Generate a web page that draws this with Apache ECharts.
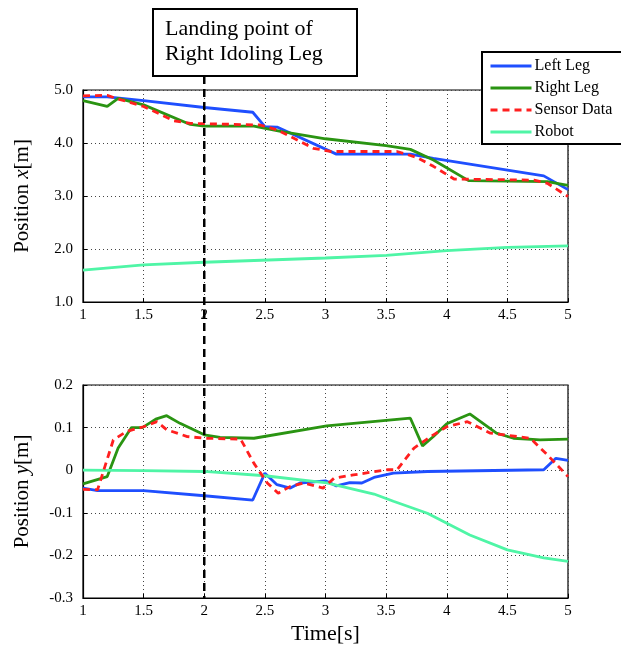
<!DOCTYPE html>
<html><head><meta charset="utf-8">
<script src="https://cdn.jsdelivr.net/npm/echarts@6/dist/echarts.min.js"></script>
<style>html,body{margin:0;padding:0;background:#fff}#c{width:621px;height:648px}</style>
</head><body><div id="c"></div>
<script>
// ---- Data ----
const xTicks = [1, 1.5, 2, 2.5, 3, 3.5, 4, 4.5, 5];
const landingTime = 2;

// Top: position x [m]
const leftXT  = [1, 1.2, 1.5, 2, 2.4, 2.5, 2.6, 3.09, 3.7, 3.89, 4.8, 5];
const leftXV  = [4.87, 4.87, 4.80, 4.67, 4.58, 4.31, 4.30, 3.79, 3.79, 3.71, 3.38, 3.12];
const rightXT = [1, 1.2, 1.29, 1.5, 1.885, 2, 2.41, 2.63, 3, 3.5, 3.7, 3.89, 4.18, 4.83, 5];
const rightXV = [4.80, 4.69, 4.84, 4.72, 4.35, 4.32, 4.32, 4.22, 4.08, 3.95, 3.88, 3.68, 3.29, 3.27, 3.20];
const sensXT  = [1, 1.2, 1.29, 1.5, 1.75, 1.885, 2.46, 2.6, 2.9, 3.04, 3.59, 3.75, 3.89, 4.06, 4.72, 4.83, 5];
const sensXV  = [4.89, 4.90, 4.83, 4.69, 4.42, 4.37, 4.34, 4.25, 3.90, 3.84, 3.84, 3.73, 3.56, 3.32, 3.30, 3.24, 2.99];
const robotXT = [1, 1.5, 2, 3, 3.5, 4, 4.5, 5];
const robotXV = [1.60, 1.70, 1.75, 1.83, 1.88, 1.97, 2.03, 2.06];

// Bottom: position y [m]
const leftYT  = [1, 1.12, 1.5, 2, 2.4, 2.5, 2.6, 2.71, 2.79, 3.0, 3.09, 3.2, 3.3, 3.4, 3.56, 3.84, 4.8, 4.9, 5];
const leftYV  = [-0.042, -0.048, -0.048, -0.060, -0.070, -0.007, -0.034, -0.042, -0.030, -0.025, -0.037, -0.029, -0.030, -0.017, -0.007, -0.003, 0.001, 0.028, 0.023];
const rightYT = [1, 1.2, 1.29, 1.4, 1.49, 1.6, 1.69, 1.8, 2.0, 2.13, 2.41, 3.01, 3.7, 3.8, 3.89, 4.0, 4.19, 4.41, 4.55, 4.77, 5];
const rightYV = [-0.032, -0.015, 0.052, 0.100, 0.100, 0.120, 0.128, 0.110, 0.083, 0.077, 0.075, 0.104, 0.122, 0.057, 0.079, 0.109, 0.132, 0.087, 0.075, 0.071, 0.073];
const sensYT  = [1, 1.12, 1.25, 1.36, 1.5, 1.61, 1.69, 1.86, 2, 2.3, 2.41, 2.52, 2.61, 2.71, 2.82, 2.98, 3.07, 3.23, 3.51, 3.59, 3.73, 3.89, 4.0, 4.17, 4.36, 4.69, 4.83, 5];
const sensYV  = [-0.045, -0.046, 0.071, 0.091, 0.102, 0.114, 0.095, 0.079, 0.075, 0.073, 0.016, -0.030, -0.054, -0.038, -0.030, -0.042, -0.019, -0.011, 0.001, 0.001, 0.052, 0.083, 0.102, 0.114, 0.087, 0.075, 0.036, -0.015];
const robotYT = [1, 1.5, 2, 2.5, 3.01, 3.4, 3.56, 3.84, 4.19, 4.5, 4.8, 5];
const robotYV = [0, -0.001, -0.003, -0.013, -0.030, -0.056, -0.073, -0.101, -0.152, -0.187, -0.206, -0.214];

const names = ['Left Leg', 'Right Leg', 'Sensor Data', 'Robot'];
const colors = ['#1f4fff', '#2a9412', '#ff1f1f', '#4ff5a6'];

// ---- Helpers ----
const zip = (t, v) => t.map((x, i) => [x, v[i]]);
const FONT = '"Liberation Serif", "Times New Roman", serif';

function mkSeries(name, idx, t, v, axis) {
  return {
    name: name, type: 'line', xAxisIndex: axis, yAxisIndex: axis,
    data: zip(t, v), symbol: 'none', smooth: false, z: idx === 2 ? 4 : 3,
    lineStyle: { color: colors[idx], width: 2.8, type: idx === 2 ? [7, 5] : 'solid' },
    itemStyle: { color: colors[idx] }
  };
}

const chart = echarts.init(document.getElementById('c'), null, { renderer: 'canvas' });

const xAxisBase = (gi) => ({
  type: 'value', gridIndex: gi, min: 1, max: 5, interval: 0.5,
  axisLine: { show: true, onZero: false, lineStyle: { color: '#000', width: 1.2 } },
  axisTick: { show: true, inside: true, length: 4, lineStyle: { color: '#000' } },
  axisLabel: { color: '#000', fontFamily: FONT, fontSize: 15, margin: 6 },
  splitLine: { show: true, lineStyle: { color: '#444', type: [1, 3], width: 1 } }
});

const yName = (sym) => ({
  name: '{a|Position }{i|' + sym + '}{a|[m]}', nameLocation: 'middle', nameGap: 50,
  nameTextStyle: { rich: {
    a: { color: '#000', fontFamily: FONT, fontSize: 21 },
    i: { color: '#000', fontFamily: FONT, fontSize: 21, fontStyle: 'italic' } } }
});

const option = {
  backgroundColor: '#fff',
  animation: false,
  grid: [
    { left: 83, right: 53, top: 90, height: 212, show: true, borderColor: '#000', borderWidth: 1.2, backgroundColor: 'transparent' },
    { left: 83, right: 53, top: 385, height: 213, show: true, borderColor: '#000', borderWidth: 1.2, backgroundColor: 'transparent' }
  ],
  xAxis: [
    xAxisBase(0),
    Object.assign(xAxisBase(1), {
      name: 'Time[s]', nameLocation: 'middle', nameGap: 25,
      nameTextStyle: { color: '#000', fontFamily: FONT, fontSize: 22 }
    })
  ],
  yAxis: [
    Object.assign({
      type: 'value', gridIndex: 0, min: 1, max: 5, interval: 1,
      axisLine: { show: true, lineStyle: { color: '#000', width: 1.2 } },
      axisTick: { show: true, inside: true, length: 4, lineStyle: { color: '#000' } },
      axisLabel: { color: '#000', fontFamily: FONT, fontSize: 15, margin: 10, formatter: v => v.toFixed(1) },
      splitLine: { show: true, lineStyle: { color: '#444', type: [1, 3], width: 1 } }
    }, yName('x')),
    Object.assign({
      type: 'value', gridIndex: 1, min: -0.3, max: 0.2, interval: 0.1,
      axisLine: { show: true, lineStyle: { color: '#000', width: 1.2 } },
      axisTick: { show: true, inside: true, length: 4, lineStyle: { color: '#000' } },
      axisLabel: { color: '#000', fontFamily: FONT, fontSize: 15, margin: 10,
        formatter: v => (Math.abs(v) < 1e-9 ? '0' : (Math.round(v * 10) / 10).toFixed(1)) },
      splitLine: { show: true, lineStyle: { color: '#444', type: [1, 3], width: 1 } }
    }, yName('y'))
  ],
  legend: {
    data: names, orient: 'vertical', left: 482, top: 52,
    backgroundColor: '#fff', borderColor: '#000', borderWidth: 2,
    padding: [6, 40, 4, 7], itemGap: 6, itemWidth: 41, itemHeight: 14,
    itemStyle: { opacity: 0 },
    lineStyle: { width: 3 },
    textStyle: { color: '#000', fontFamily: FONT, fontSize: 16, padding: [0, 0, 0, -2] }, z: 10
  },
  series: [
    mkSeries(names[0], 0, leftXT, leftXV, 0),
    mkSeries(names[1], 1, rightXT, rightXV, 0),
    mkSeries(names[2], 2, sensXT, sensXV, 0),
    mkSeries(names[3], 3, robotXT, robotXV, 0),
    mkSeries(names[0], 0, leftYT, leftYV, 1),
    mkSeries(names[1], 1, rightYT, rightYV, 1),
    mkSeries(names[2], 2, sensYT, sensYV, 1),
    mkSeries(names[3], 3, robotYT, robotYV, 1)
  ]
};
chart.setOption(option);

// Annotation: dashed line at landing time spanning both plots, plus label box
const px = chart.convertToPixel({ xAxisIndex: 0 }, landingTime);
const yBottom = chart.convertToPixel({ yAxisIndex: 1 }, -0.3);
chart.setOption({
  graphic: [
    { type: 'line', z: 20, shape: { x1: px, y1: 76, x2: px, y2: yBottom },
      style: { stroke: '#000', lineWidth: 2.5, lineDash: [8, 5] } },
    { type: 'rect', z: 21, shape: { x: 153, y: 9, width: 204, height: 67 },
      style: { fill: '#fff', stroke: '#000', lineWidth: 2 } },
    { type: 'text', z: 22, left: 165, top: 17,
      style: { text: 'Landing point of\nRight Idoling Leg', fill: '#000', font: '22px ' + FONT, lineHeight: 25 } }
  ]
});
</script></body></html>
